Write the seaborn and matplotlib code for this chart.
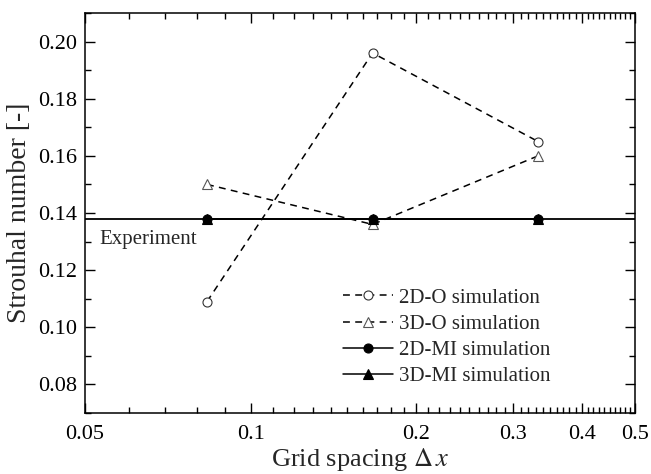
import numpy as np
import pandas as pd
import matplotlib
matplotlib.use("Agg")
import matplotlib.pyplot as plt
import seaborn as sns
from matplotlib.ticker import FixedLocator, NullFormatter

# ---- data ----
grid_spacing = [1/12, 1/6, 1/3]
st_2d_o = [0.109, 0.196, 0.165]
st_3d_o = [0.150, 0.136, 0.160]
st_2d_mi = [0.138, 0.138, 0.138]
st_3d_mi = [0.138, 0.138, 0.138]
experiment = 0.138

x_major = [0.05, 0.1, 0.2, 0.3, 0.4, 0.5]
x_major_labels = ["0.05", "0.1", "0.2", "0.3", "0.4", "0.5"]
y_major = [0.08, 0.10, 0.12, 0.14, 0.16, 0.18, 0.20]

sns.set_theme(style="ticks")
plt.rcParams["font.family"] = ["Liberation Serif", "DejaVu Serif"]
plt.rcParams["mathtext.fontset"] = "stix"

fig = plt.figure(figsize=(6.51, 4.74), dpi=100)
ax = fig.add_axes([0.1306, 0.1287, 0.8448, 0.8439])

dash = (0, (4.5, 3.5))
series = [
    (st_2d_o, "2D-O simulation", dict(linestyle=dash, marker="o", markerfacecolor="white",
                                       markeredgecolor="#333333", markersize=6.5)),
    (st_3d_o, "3D-O simulation", dict(linestyle=dash, marker="^", markerfacecolor="white",
                                       markeredgecolor="#555555", markersize=6.5)),
    (st_2d_mi, "2D-MI simulation", dict(linestyle="-", marker="o", markerfacecolor="black",
                                         markeredgecolor="black", markersize=6.5)),
    (st_3d_mi, "3D-MI simulation", dict(linestyle="-", marker="^", markerfacecolor="black",
                                         markeredgecolor="black", markersize=6.5)),
]
for vals, label, kw in series:
    sns.lineplot(x=grid_spacing, y=vals, ax=ax, color="black", linewidth=1.1,
                 label=label, markeredgewidth=0.8, **kw)

ax.axhline(experiment, color="black", linewidth=1.3, zorder=1)
ax.text(0.0532, experiment - 0.0072, "Experiment", fontsize=15, va="center", ha="left")

ax.set_xscale("log")
ax.set_xlim(0.05, 0.5)
ax.set_ylim(0.07, 0.21)

ax.xaxis.set_major_locator(FixedLocator(x_major))
ax.set_xticklabels(x_major_labels)
minor_x = [v / 100 for v in range(6, 50) if v not in (10, 20, 30, 40)]
ax.xaxis.set_minor_locator(FixedLocator(minor_x))
ax.xaxis.set_minor_formatter(NullFormatter())
ax.yaxis.set_major_locator(FixedLocator(y_major))
ax.set_yticklabels([f"{v:.2f}" for v in y_major])
ax.yaxis.set_minor_locator(FixedLocator([v / 100 for v in range(7, 22, 2)]))

ax.tick_params(which="both", direction="in", top=True, right=True, width=1.0, colors="black",
               labelsize=16)
ax.tick_params(which="major", length=7)
ax.tick_params(axis="x", which="major", pad=9)
ax.tick_params(axis="y", which="major", pad=6)
ax.tick_params(which="minor", length=4)
for s in ax.spines.values():
    s.set_linewidth(1.1)
    s.set_color("black")

ax.set_xlabel(r"Grid spacing $\Delta\,x$", fontsize=19, labelpad=1)
ax.set_ylabel("Strouhal number [-]", fontsize=20, labelpad=4)

leg = ax.legend(loc="lower right", bbox_to_anchor=(0.872, 0.03), frameon=False, fontsize=15,
                handlelength=2.4, handletextpad=0.25, labelspacing=0.32, borderaxespad=0.3)

fig.savefig("out.png", dpi=100)
